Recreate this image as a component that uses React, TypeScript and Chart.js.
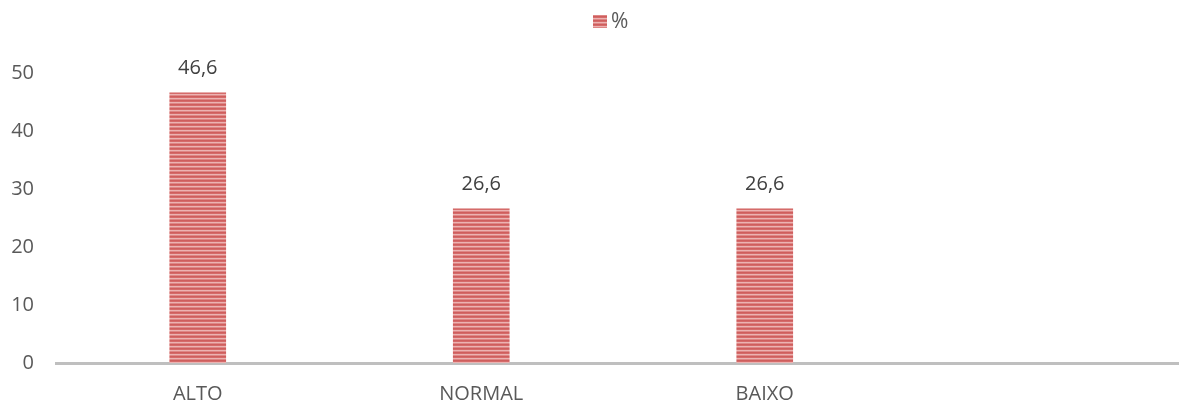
import { useEffect, useRef } from "react";
import { Chart, registerables } from "chart.js";

Chart.register(...registerables);

// Categories along the x axis (the last slot is an empty category)
const categories: string[] = ["ALTO", "NORMAL", "BAIXO", ""];
// Percentage per category
const percentValues: (number | null)[] = [46.6, 26.6, 26.6, null];
// Value labels printed above each bar
const valueLabels: string[] = ["46,6", "26,6", "26,6", ""];
// Series name shown in the legend
const seriesName = "%";
// Y axis range and step
const yMin = 0;
const yMax = 50;
const yStep = 10;

const FONT = "'Open Sans', 'Liberation Sans', sans-serif";

// Soft horizontal stripe fill for the bars
function makeStripePattern(): CanvasPattern | string {
  const c = document.createElement("canvas");
  c.width = 4;
  c.height = 4;
  const g = c.getContext("2d");
  if (!g) return "#d46a6a";
  const rows = ["#cf5e5d", "#d56b6a", "#ecb3b2", "#de8786"];
  rows.forEach((col, i) => {
    g.fillStyle = col;
    g.fillRect(0, i, 4, 1);
  });
  const p = g.createPattern(c, "repeat");
  return p || "#d46a6a";
}

export default function App() {
  const canvasRef = useRef<HTMLCanvasElement | null>(null);

  useEffect(() => {
    document.body.style.margin = "0";
    document.body.style.overflow = "hidden";
    const canvas = canvasRef.current;
    if (!canvas) return;
    const stripes = makeStripePattern();

    const valueLabelPlugin = {
      id: "valueLabels",
      afterDatasetsDraw(chart: any) {
        const ctx = chart.ctx;
        const meta = chart.getDatasetMeta(0);
        ctx.save();
        ctx.font = `20px ${FONT}`;
        ctx.fillStyle = "#404040";
        ctx.textAlign = "center";
        ctx.textBaseline = "middle";
        meta.data.forEach((bar: any, i: number) => {
          const v = percentValues[i];
          if (v === null || v === undefined) return;
          ctx.fillText(valueLabels[i], bar.x, bar.y - 24);
        });
        ctx.restore();
      },
    };

    const legendPlugin = {
      id: "seriesLegend",
      afterDraw(chart: any) {
        const ctx = chart.ctx;
        ctx.save();
        ctx.fillStyle = stripes as any;
        ctx.fillRect(593, 15, 14, 13);
        ctx.font = `21px ${FONT}`;
        ctx.fillStyle = "#595959";
        ctx.textAlign = "left";
        ctx.textBaseline = "middle";
        ctx.fillText(seriesName, 611, 22);
        ctx.restore();
      },
    };

    const chart = new Chart(canvas, {
      type: "bar",
      data: {
        labels: categories,
        datasets: [
          {
            label: seriesName,
            data: percentValues,
            backgroundColor: stripes as any,
            borderWidth: 0,
            barThickness: 56,
          },
        ],
      },
      options: {
        responsive: false,
        animation: false,
        layout: { padding: { top: 73, left: 0, right: 0, bottom: 0 } },
        plugins: {
          legend: { display: false },
          tooltip: { enabled: false },
        },
        scales: {
          x: {
            grid: { display: false, drawTicks: false },
            border: { display: true, color: "#bfbfbf", width: 3 },
            ticks: {
              color: "#595959",
              font: { family: FONT, size: 20 },
              padding: 19,
            },
            afterFit(scale: any) {
              scale.height = 41;
            },
          },
          y: {
            min: yMin,
            max: yMax,
            grid: { display: false, drawTicks: false },
            border: { display: false },
            ticks: {
              stepSize: yStep,
              color: "#595959",
              font: { family: FONT, size: 20 },
              padding: 22,
            },
            afterFit(scale: any) {
              scale.width = 56;
            },
          },
        },
      },
      plugins: [valueLabelPlugin, legendPlugin],
    });

    return () => {
      chart.destroy();
    };
  }, []);

  return (
    <div style={{ position: "absolute", left: 0, top: 0, width: 1190, height: 404 }}>
      <canvas ref={canvasRef} width={1190} height={404} />
    </div>
  );
}
